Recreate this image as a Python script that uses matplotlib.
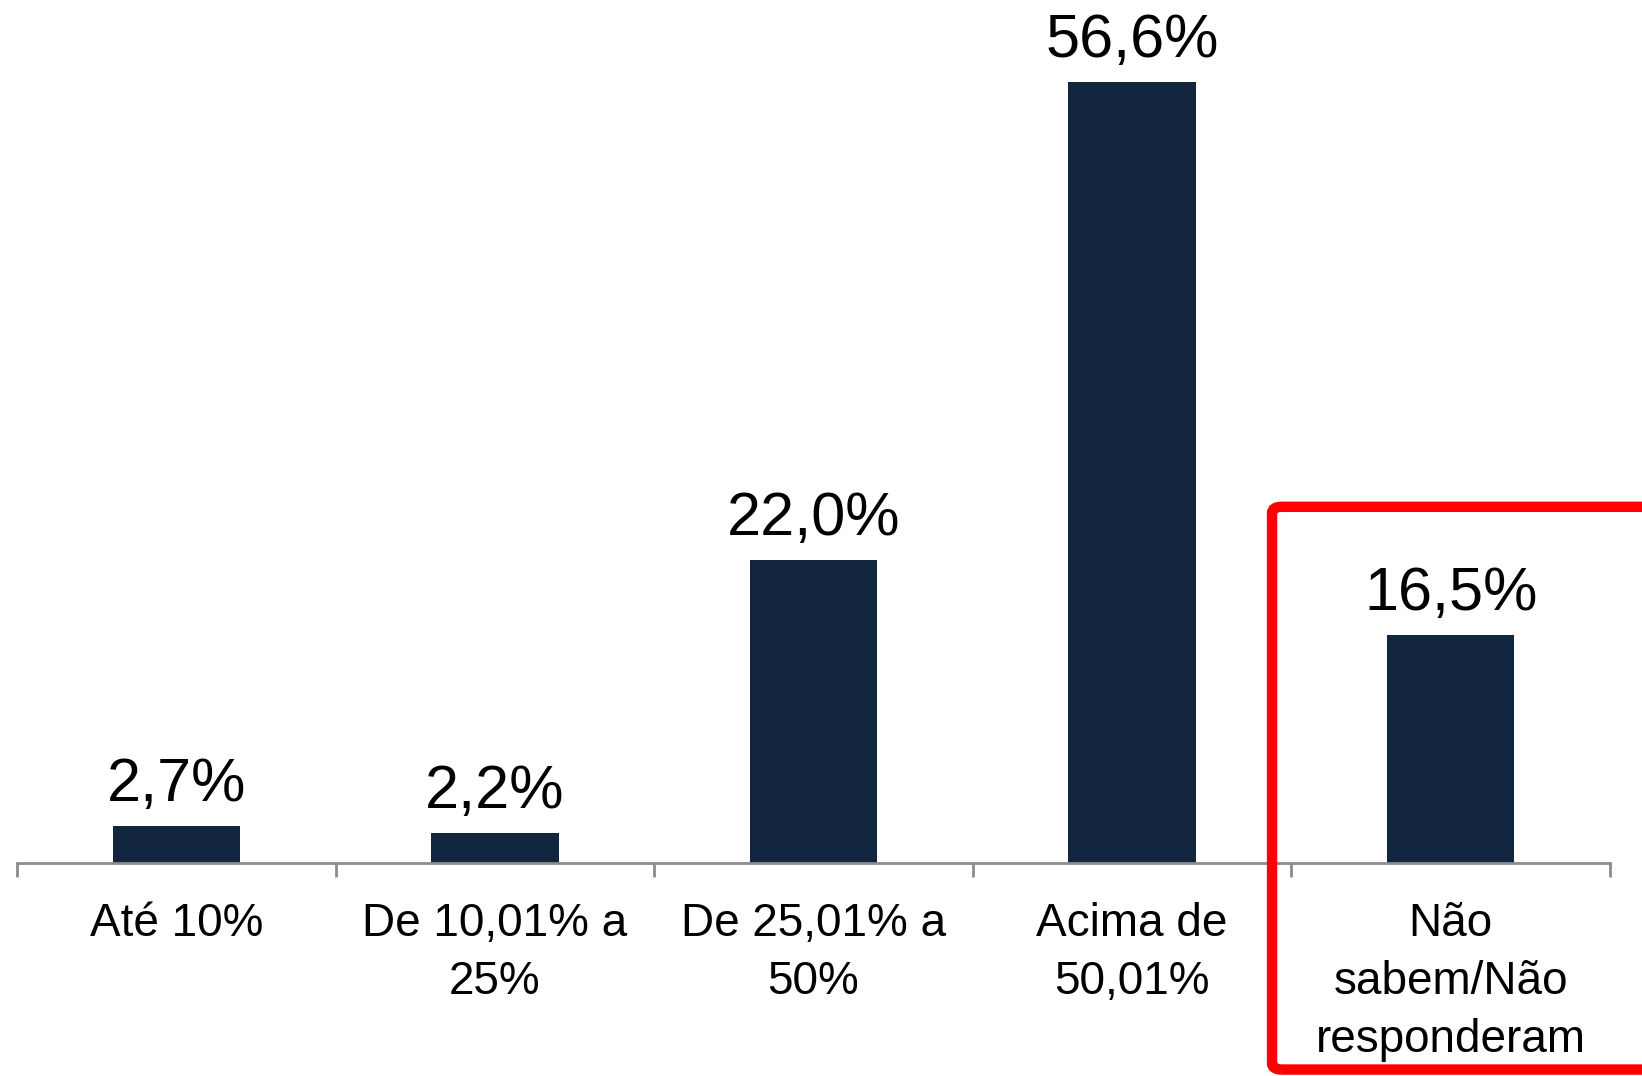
import matplotlib
matplotlib.use('Agg')
import matplotlib.pyplot as plt
from matplotlib.patches import FancyBboxPatch

plt.rcParams['font.family'] = ['Liberation Sans', 'DejaVu Sans']

Faixas = ['Até 10%', 'De 10,01% a\n25%', 'De 25,01% a\n50%', 'Acima de\n50,01%', 'Não\nsabem/Não\nresponderam']
Valores = [2.7, 2.2, 22.0, 56.6, 16.5]
Rotulos = ['2,7%', '2,2%', '22,0%', '56,6%', '16,5%']

fig = plt.figure(figsize=(16.42, 10.76), dpi=100)
ax = fig.add_axes([0.0104, 0.198, 0.9701, 0.769])

xx = range(len(Valores))
ax.bar(xx, Valores, width=0.4, color='#12253f', align='center', zorder=2)

for x, v, r in zip(xx, Valores, Rotulos):
    ax.annotate(r, (x, v), xytext=(0, 25), textcoords='offset pixels',
                ha='center', va='baseline', fontsize=44, color='black')

ax.set_xlim(-0.5, 4.5)
ax.set_ylim(0, 60)
ax.set_yticks([])
for s in ['top', 'right', 'left']:
    ax.spines[s].set_visible(False)
ax.spines['bottom'].set_color('#8c8c8c')
ax.spines['bottom'].set_linewidth(2)

# ticks between the categories
ax.set_xticks([i - 0.5 for i in range(len(Valores) + 1)], minor=False)
ax.set_xticklabels([])
ax.tick_params(axis='x', which='major', length=10, width=2, color='#8c8c8c')
ax.set_xticks(list(xx), minor=True)
ax.set_xticklabels(Faixas, minor=True, fontsize=33, linespacing=1.42)
ax.tick_params(axis='x', which='minor', length=0, pad=28)

# destaque em vermelho
box = FancyBboxPatch((0.7747, 0.006), 0.26, 0.523, boxstyle='round,pad=0,rounding_size=0.006',
                     transform=fig.transFigure, fill=False, edgecolor='#ff0000',
                     linewidth=7.5, clip_on=False, zorder=5)
fig.patches.append(box)

fig.savefig('out.png', dpi=100)
